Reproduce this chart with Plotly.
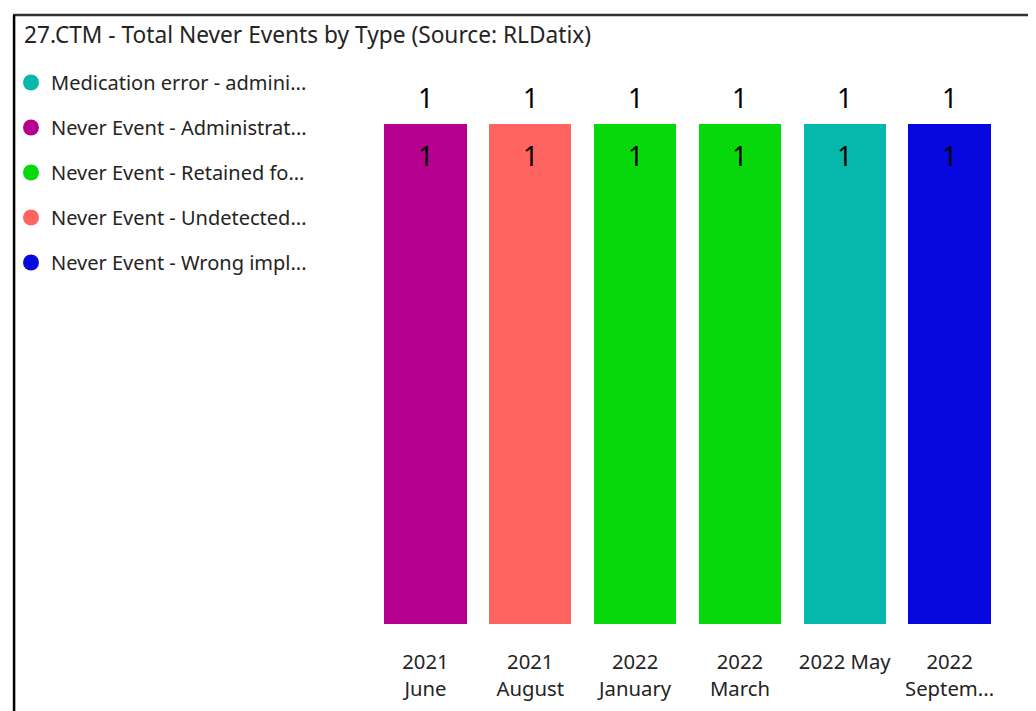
import plotly.graph_objects as go

categories = ["2021<br>June", "2021<br>August", "2022<br>January", "2022<br>March", "2022 May", "2022<br>Septem..."]
series_names = [
    "Medication error - admini...",
    "Never Event - Administrat...",
    "Never Event - Retained fo...",
    "Never Event - Undetected...",
    "Never Event - Wrong impl...",
]
medication_error = [None, None, None, None, 1, None]
administration = [1, None, None, None, None, None]
retained = [None, None, 1, 1, None, None]
undetected = [None, 1, None, None, None, None]
wrong_impl = [None, None, None, None, None, 1]
series_values = [medication_error, administration, retained, undetected, wrong_impl]
colors = ["#05B8AB", "#B5008F", "#07D80B", "#FF6461", "#0707E0"]

# the page adds an 8px body margin, so the figure is 8px smaller and all
# reference screen positions are shifted by -8
OFF = 8
W, H = 1036 - OFF, 711 - OFF
FONT = "Noto Sans"
TXT = "#252423"

fig = go.Figure()
for name, vals, col in zip(series_names, series_values, colors):
    fig.add_trace(go.Bar(
        x=categories, y=vals, name=name, marker=dict(color=col, line=dict(width=0)),
        showlegend=False, legendgroup=name, hoverinfo="skip",
    ))
for name, col in zip(series_names, colors):
    fig.add_trace(go.Scatter(
        x=[None], y=[None], mode="markers", name=name, legendgroup=name,
        marker=dict(symbol="circle", size=20, color=col),
    ))

# inside-end segment labels
cum = [0] * len(categories)
for vals in series_values:
    for i, v in enumerate(vals):
        if v:
            cum[i] += v
            fig.add_annotation(x=categories[i], y=cum[i], text=str(v), showarrow=False,
                               yshift=-31, font=dict(size=27, color="#000000", family=FONT))

totals = [sum(v[i] or 0 for v in series_values) for i in range(len(categories))]
for c, t in zip(categories, totals):
    fig.add_annotation(x=c, y=t, text=str(t), showarrow=False, yshift=27,
                       font=dict(size=27, color="#000000", family=FONT))

# plot area placement (figure pixels)
l, r, t_m, b = 364.5, 33.5, 66, 87
pw, ph = W - l - r, H - t_m - b
def px_x(p):
    return (p - OFF - l) / pw
def px_y(p):
    return (H - b - (p - OFF)) / ph

fig.add_shape(type="line", xref="paper", yref="paper", x0=px_x(12), x1=px_x(1050),
              y0=px_y(15), y1=px_y(15), line=dict(color="#333333", width=2.5))
fig.add_shape(type="line", xref="paper", yref="paper", x0=px_x(13), x1=px_x(13),
              y0=px_y(15), y1=px_y(730), line=dict(color="#000000", width=2.5))

fig.update_layout(
    width=W, height=H,
    margin=dict(l=l, r=r, t=t_m, b=b, pad=0, autoexpand=False),
    paper_bgcolor="white", plot_bgcolor="white",
    barmode="stack", bargap=0.215,
    font=dict(family=FONT, color=TXT),
    title=dict(text="27.CTM - Total Never Events by Type (Source: RLDatix)",
               x=(24 - OFF) / W, xanchor="left", xref="container",
               y=1 - (35 - OFF) / H, yanchor="middle", yref="container",
               font=dict(size=22.7, color=TXT, family=FONT)),
    legend=dict(xref="container", yref="container", x=(3 - OFF + 8) / W, y=1 - (63 - OFF) / H,
                xanchor="left", yanchor="top", font=dict(size=20, color=TXT, family=FONT),
                tracegroupgap=16, itemwidth=30, bgcolor="rgba(0,0,0,0)"),
    xaxis=dict(showgrid=False, showline=False, zeroline=False, automargin=False,
               ticks="outside", ticklen=20, tickcolor="rgba(0,0,0,0)",
               tickfont=dict(size=20.3, color=TXT, family=FONT), tickangle=0),
    yaxis=dict(range=[0, 1.1], visible=False, showgrid=False, zeroline=False, automargin=False),
    showlegend=True,
)

fig.write_html("out.html")
